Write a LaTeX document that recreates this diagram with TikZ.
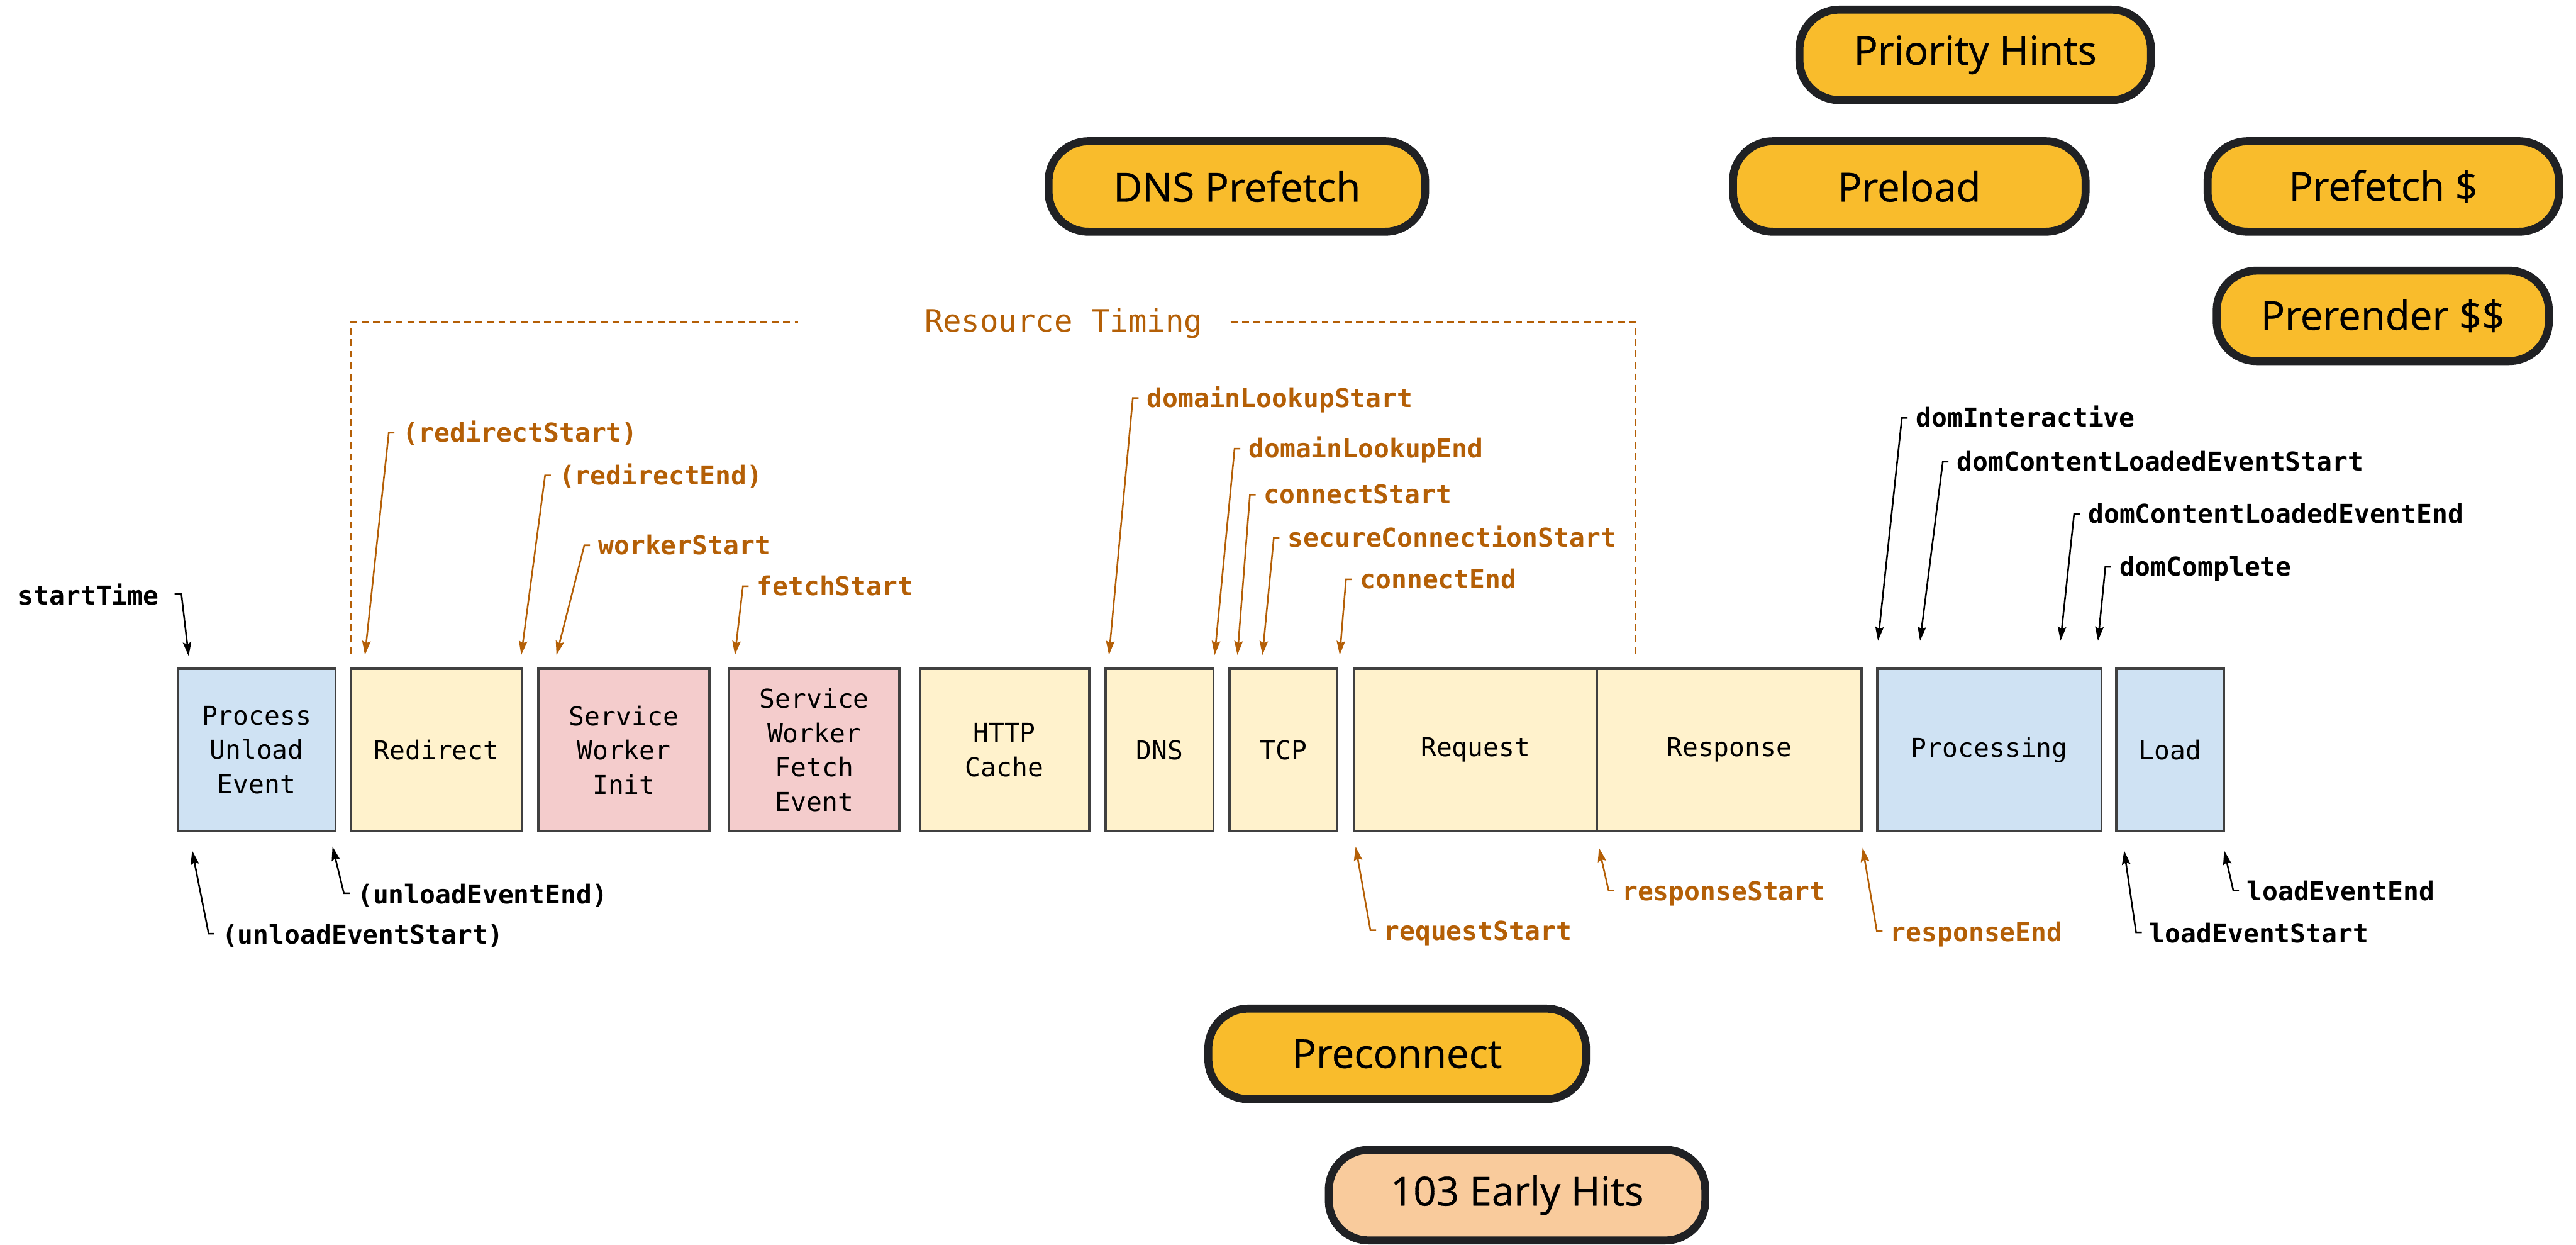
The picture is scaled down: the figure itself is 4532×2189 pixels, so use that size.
\documentclass[tikz,border=0pt]{standalone}
\usepackage{fontspec}
\setmonofont{DejaVu Sans Mono}
\newfontfamily\hintfamily[FakeBold=0.5]{Open Sans}
\usetikzlibrary{arrows.meta,calc}

\definecolor{pblue}{HTML}{CFE2F3}
\definecolor{pyellow}{HTML}{FFF2CC}
\definecolor{ppink}{HTML}{F4CCCC}
\definecolor{boxline}{HTML}{404040}
\definecolor{orng}{HTML}{B45F06}
\definecolor{hintfill}{HTML}{F9BC2C}
\definecolor{peach}{HTML}{F9CB9C}
\definecolor{hintline}{HTML}{202124}

\newcommand\phasefont{\ttfamily\fontsize{13}{17.1}\selectfont}
\newcommand\markfont{\ttfamily\bfseries\fontsize{13}{17.1}\selectfont}
\newcommand\rtfont{\ttfamily\fontsize{15.4}{18}\selectfont}
\newcommand\hintfont{\hintfamily\fontsize{20}{24}\selectfont}

\begin{document}
\begin{tikzpicture}[x=0.01cm,y=-0.01cm,
  phase/.style={draw=boxline, line width=1.1pt, minimum height=2.86cm,
    align=center, font=\phasefont, inner sep=0pt},
  bluebox/.style={phase, fill=pblue},
  yellowbox/.style={phase, fill=pyellow},
  pinkbox/.style={phase, fill=ppink},
  tlabel/.style={anchor=base west, inner sep=0pt, font=\markfont},
  olabel/.style={tlabel, text=orng},
  tip/.style={-{Stealth[length=7pt,width=4.2pt,inset=1pt]}, line width=0.8pt},
  oarr/.style={tip, draw=orng},
  karr/.style={tip, draw=black},
  rtdash/.style={draw=orng, line width=0.7pt, dash pattern=on 3.4pt off 2.3pt},
  hint/.style={draw=hintline, line width=3.98pt, rounded corners=0.7cm,
    fill=hintfill, minimum height=1.59cm, font=\hintfont, inner sep=0pt},
  earlyhint/.style={hint, fill=peach}
]
\useasboundingbox (0,0) rectangle (4532,2189);
\fill[white] (0,0) rectangle (4532,2189);

% ---- phases of a navigation ----
\node[bluebox,   minimum width=2.77cm] (pue)   at (451.5,1319) {Process\\Unload\\Event};
\node[yellowbox, minimum width=3.00cm] (redir) at (768,1319)   {Redirect};
\node[pinkbox,   minimum width=3.01cm] (swi)   at (1097.5,1319) {Service\\Worker\\Init};
\node[pinkbox,   minimum width=2.99cm] (swf)   at (1432.5,1319) {Service\\Worker\\Fetch\\Event};
\node[yellowbox, minimum width=2.98cm] (http)  at (1767,1319)  {HTTP\\Cache};
\node[yellowbox, minimum width=1.90cm] (dns)   at (2040,1319)  {DNS};
\node[yellowbox, minimum width=1.90cm] (tcp)   at (2258,1319)  {TCP};
\node[yellowbox, minimum width=4.28cm] (req)   at (2596,1319)  {Request};
\node[yellowbox, minimum width=4.65cm] (resp)  at (3042.5,1319) {Response};
\node[bluebox,   minimum width=3.94cm] (proc)  at (3500,1319)  {Processing};
\node[bluebox,   minimum width=1.90cm] (load)  at (3818,1319)  {Load};

% ---- Resource Timing bracket ----
\node[font=\rtfont, text=orng, inner sep=0pt] (rt) at (1871,569) {Resource Timing};
\draw[rtdash] (618,1150) -- (618,567) -- (1404,567);
\draw[rtdash] (2165,567) -- (2877,567) -- (2877,1150);

% ---- arrow targets ----
\coordinate (tST)   at (332,1154);
\coordinate (tRS)   at (642,1152);
\coordinate (tRE)   at (917,1152);
\coordinate (tWS)   at (979,1152);
\coordinate (tFS)   at (1293,1152);
\coordinate (tDLS)  at (1951,1152);
\coordinate (tDLE)  at (2137,1152);
\coordinate (tCS)   at (2177,1152);
\coordinate (tSCS)  at (2221,1152);
\coordinate (tCE)   at (2357,1152);
\coordinate (tDI)   at (3304,1127);
\coordinate (tDCS)  at (3378,1127);
\coordinate (tDCE)  at (3625,1127);
\coordinate (tDC)   at (3691,1127);
\coordinate (tUES)  at (338,1496);
\coordinate (tUEE)  at (585,1489);
\coordinate (tRQS)  at (2385,1489);
\coordinate (tRPS)  at (2813,1491);
\coordinate (tRPE)  at (3277,1491);
\coordinate (tLES)  at (3737,1496);
\coordinate (tLEE)  at (3913,1496);

% ---- timing marks above the phases ----
\node[tlabel] (lST) at (31,1064) {startTime};
\draw[karr] ($(lST.base east)+(27,-19)$) -- ++(12,0) -- (tST);

\node[olabel] (lRS)  at (708,777)   {(redirectStart)};
\node[olabel] (lRE)  at (983,852)   {(redirectEnd)};
\node[olabel] (lWS)  at (1052,975)  {workerStart};
\node[olabel] (lFS)  at (1331,1047) {fetchStart};
\node[olabel] (lDLS) at (2017,716)  {domainLookupStart};
\node[olabel] (lDLE) at (2196,805)  {domainLookupEnd};
\node[olabel] (lCS)  at (2223,886)  {connectStart};
\node[olabel] (lSCS) at (2265,962)  {secureConnectionStart};
\node[olabel] (lCE)  at (2392,1035) {connectEnd};

\foreach \l/\t in {lRS/tRS, lRE/tRE, lWS/tWS, lFS/tFS, lDLS/tDLS,
                   lDLE/tDLE, lCS/tCS, lSCS/tSCS, lCE/tCE}
  \draw[oarr] ($(\l.base west)+(-14,-16)$) -- ++(-10,0) -- (\t);

\node[tlabel] (lDI)  at (3370,751)  {domInteractive};
\node[tlabel] (lDCS) at (3442,828)  {domContentLoadedEventStart};
\node[tlabel] (lDCE) at (3673,920)  {domContentLoadedEventEnd};
\node[tlabel] (lDC)  at (3728,1013) {domComplete};

\foreach \l/\t in {lDI/tDI, lDCS/tDCS, lDCE/tDCE, lDC/tDC}
  \draw[karr] ($(\l.base west)+(-14,-16)$) -- ++(-10,0) -- (\t);

% ---- timing marks below the phases ----
\node[tlabel]  (lUES) at (390,1660)  {(unloadEventStart)};
\node[tlabel]  (lUEE) at (628,1589)  {(unloadEventEnd)};
\node[olabel]  (lRQS) at (2434,1654) {requestStart};
\node[olabel]  (lRPS) at (2853,1584) {responseStart};
\node[olabel]  (lRPE) at (3325,1656) {responseEnd};
\node[tlabel]  (lLES) at (3781,1658) {loadEventStart};
\node[tlabel]  (lLEE) at (3952,1584) {loadEventEnd};

\foreach \l/\t in {lUES/tUES, lUEE/tUEE, lLES/tLES, lLEE/tLEE}
  \draw[karr] ($(\l.base west)+(-13,-18)$) -- ++(-10,0) -- (\t);
\foreach \l/\t in {lRQS/tRQS, lRPS/tRPS, lRPE/tRPE}
  \draw[oarr] ($(\l.base west)+(-13,-18)$) -- ++(-10,0) -- (\t);

% ---- resource hints ----
\node[hint, minimum width=6.18cm] (ph)   at (3475,96.5)   {Priority Hints};
\node[hint, minimum width=6.62cm] (dnsp) at (2176,328)    {DNS Prefetch};
\node[hint, minimum width=6.20cm] (prel) at (3359,328)    {Preload};
\node[hint, minimum width=6.18cm] (pref) at (4193,328)    {Prefetch \$};
\node[hint, minimum width=5.84cm] (prer) at (4192,555.5)  {Prerender \$\$};
\node[hint, minimum width=6.64cm] (prec) at (2458,1853.5) {Preconnect};
\node[earlyhint, minimum width=6.62cm] (eh) at (2669,2102) {103 Early Hits};
\end{tikzpicture}
\end{document}
